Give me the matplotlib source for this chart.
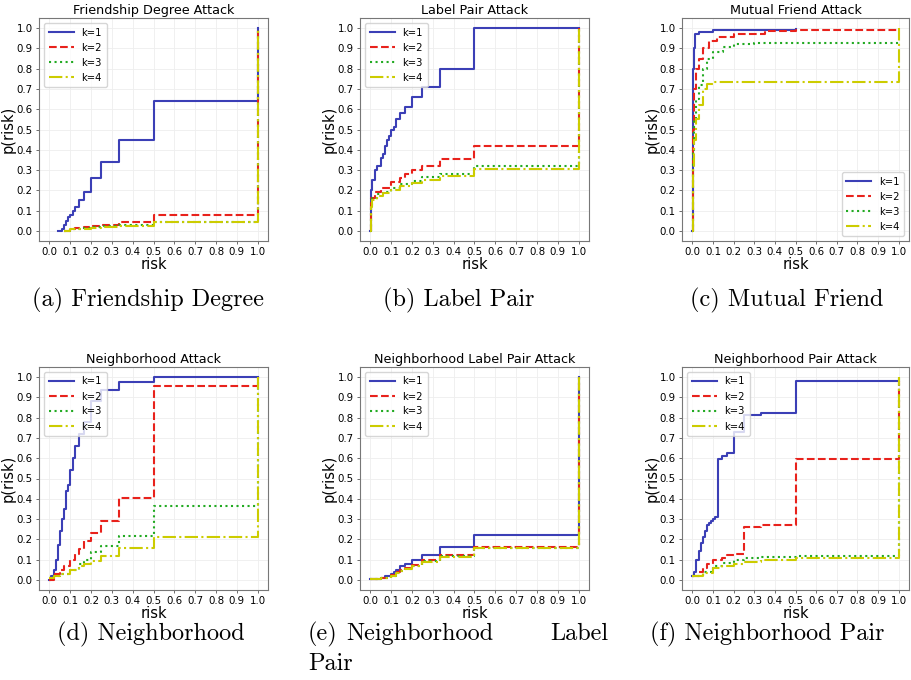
#!/usr/bin/env python3

"""
Risk CDFs for six attacks, k=1..4, laid out like the paper's subfigures.
"""

import matplotlib
matplotlib.use("Agg")
import matplotlib.pyplot as plt

# ---- data: (risk, p(risk)) step points per attack and k ----
FD_X1 = [0.04, 0.06, 0.07, 0.08, 0.09, 0.10, 0.111, 0.125, 0.143, 0.167, 0.20, 0.25, 0.333, 0.5, 1.0]
FD_Y1 = [0.0, 0.01, 0.03, 0.05, 0.07, 0.08, 0.10, 0.12, 0.15, 0.19, 0.26, 0.34, 0.45, 0.64, 1.0]
FD_X2 = [0.07, 0.10, 0.125, 0.167, 0.20, 0.25, 0.333, 0.5, 1.0]
FD_Y2 = [0.0, 0.01, 0.015, 0.02, 0.025, 0.03, 0.045, 0.08, 1.0]
FD_X3 = [0.07, 0.10, 0.167, 0.20, 0.25, 0.333, 0.5, 1.0]
FD_Y3 = [0.0, 0.01, 0.015, 0.02, 0.025, 0.03, 0.045, 1.0]
FD_X4 = [0.07, 0.10, 0.20, 0.25, 0.333, 0.5, 1.0]
FD_Y4 = [0.0, 0.01, 0.015, 0.02, 0.025, 0.042, 1.0]

LP_X1 = [0.0, 0.002, 0.005, 0.01, 0.02, 0.03, 0.05, 0.06, 0.07, 0.08, 0.09, 0.10, 0.111,
         0.125, 0.143, 0.167, 0.20, 0.25, 0.333, 0.5, 1.0]
LP_Y1 = [0.0, 0.15, 0.20, 0.25, 0.30, 0.32, 0.36, 0.38, 0.42, 0.45, 0.47, 0.50, 0.51,
         0.55, 0.58, 0.61, 0.66, 0.71, 0.80, 1.0, 1.0]
LP_X2 = [0.0, 0.002, 0.005, 0.02, 0.05, 0.10, 0.143, 0.167, 0.20, 0.25, 0.333, 0.5, 1.0]
LP_Y2 = [0.0, 0.13, 0.16, 0.19, 0.21, 0.24, 0.26, 0.28, 0.30, 0.32, 0.355, 0.42, 1.0]
LP_X3 = [0.0, 0.002, 0.01, 0.03, 0.06, 0.10, 0.143, 0.20, 0.25, 0.333, 0.5, 1.0]
LP_Y3 = [0.0, 0.12, 0.16, 0.18, 0.19, 0.21, 0.23, 0.245, 0.265, 0.28, 0.32, 1.0]
LP_X4 = [0.0, 0.002, 0.01, 0.03, 0.06, 0.10, 0.143, 0.20, 0.25, 0.333, 0.5, 1.0]
LP_Y4 = [0.0, 0.12, 0.15, 0.17, 0.185, 0.20, 0.22, 0.235, 0.25, 0.27, 0.305, 1.0]

MF_X1 = [0.0, 0.002, 0.005, 0.008, 0.012, 0.03, 0.10, 0.5]
MF_Y1 = [0.0, 0.5, 0.8, 0.9, 0.97, 0.98, 0.99, 0.995]
MF_X2 = [0.0, 0.005, 0.01, 0.02, 0.03, 0.05, 0.08, 0.12, 0.20, 0.35, 0.5, 1.0]
MF_Y2 = [0.0, 0.5, 0.7, 0.8, 0.85, 0.9, 0.935, 0.955, 0.97, 0.985, 0.99, 0.99]
MF_X3 = [0.0, 0.005, 0.01, 0.02, 0.03, 0.05, 0.07, 0.10, 0.15, 0.20, 0.30, 1.0]
MF_Y3 = [0.0, 0.4, 0.55, 0.65, 0.72, 0.8, 0.85, 0.88, 0.905, 0.92, 0.925, 0.925]
MF_X4 = [0.0, 0.005, 0.01, 0.02, 0.03, 0.05, 0.07, 0.10, 1.0]
MF_Y4 = [0.0, 0.3, 0.45, 0.55, 0.62, 0.7, 0.725, 0.735, 1.0]

NB_X1 = [0.0, 0.01, 0.02, 0.03, 0.04, 0.05, 0.06, 0.07, 0.08, 0.09, 0.10, 0.111, 0.125,
         0.143, 0.167, 0.20, 0.25, 0.333, 0.5, 1.0]
NB_Y1 = [0.0, 0.02, 0.05, 0.10, 0.17, 0.24, 0.30, 0.35, 0.44, 0.47, 0.54, 0.60, 0.66,
         0.72, 0.78, 0.88, 0.935, 0.975, 1.0, 1.0]
NB_X2 = [0.0, 0.02, 0.05, 0.07, 0.10, 0.125, 0.143, 0.167, 0.20, 0.25, 0.333, 0.5, 1.0]
NB_Y2 = [0.0, 0.03, 0.05, 0.07, 0.10, 0.13, 0.15, 0.19, 0.23, 0.29, 0.405, 0.955, 1.0]
NB_X3 = [0.0, 0.02, 0.05, 0.10, 0.143, 0.167, 0.20, 0.25, 0.333, 0.5, 1.0]
NB_Y3 = [0.01, 0.02, 0.03, 0.05, 0.08, 0.10, 0.135, 0.165, 0.215, 0.365, 1.0]
NB_X4 = [0.0, 0.02, 0.05, 0.10, 0.143, 0.167, 0.20, 0.25, 0.333, 0.5, 1.0]
NB_Y4 = [0.01, 0.02, 0.03, 0.05, 0.07, 0.08, 0.095, 0.12, 0.155, 0.21, 1.0]

NL_X1 = [0.0, 0.05, 0.07, 0.10, 0.111, 0.125, 0.143, 0.167, 0.20, 0.25, 0.333, 0.5, 1.0]
NL_Y1 = [0.003, 0.01, 0.02, 0.03, 0.04, 0.05, 0.07, 0.08, 0.10, 0.125, 0.16, 0.22, 1.0]
NL_X2 = [0.0, 0.05, 0.10, 0.125, 0.143, 0.167, 0.20, 0.25, 0.333, 0.5, 1.0]
NL_Y2 = [0.003, 0.01, 0.025, 0.04, 0.05, 0.06, 0.075, 0.10, 0.125, 0.16, 1.0]
NL_X3 = [0.0, 0.05, 0.10, 0.125, 0.143, 0.167, 0.20, 0.25, 0.333, 0.5, 1.0]
NL_Y3 = [0.003, 0.008, 0.02, 0.035, 0.045, 0.055, 0.07, 0.095, 0.12, 0.155, 1.0]
NL_X4 = [0.0, 0.05, 0.10, 0.125, 0.143, 0.167, 0.20, 0.25, 0.333, 0.5, 1.0]
NL_Y4 = [0.003, 0.008, 0.02, 0.035, 0.045, 0.055, 0.07, 0.09, 0.115, 0.155, 1.0]

NP_X1 = [0.0, 0.01, 0.02, 0.03, 0.04, 0.05, 0.06, 0.07, 0.08, 0.09, 0.10, 0.111, 0.125,
         0.143, 0.167, 0.20, 0.25, 0.333, 0.5, 1.0]
NP_Y1 = [0.02, 0.04, 0.10, 0.14, 0.18, 0.21, 0.24, 0.27, 0.28, 0.29, 0.30, 0.31, 0.595,
         0.61, 0.625, 0.73, 0.815, 0.825, 0.98, 0.98]
NP_X2 = [0.0, 0.03, 0.05, 0.07, 0.10, 0.143, 0.167, 0.20, 0.25, 0.333, 0.5, 1.0]
NP_Y2 = [0.02, 0.04, 0.06, 0.08, 0.10, 0.11, 0.125, 0.13, 0.26, 0.27, 0.595, 0.98]
NP_X3 = [0.0, 0.05, 0.10, 0.143, 0.20, 0.25, 0.333, 0.5, 1.0]
NP_Y3 = [0.02, 0.04, 0.07, 0.085, 0.10, 0.11, 0.115, 0.12, 1.0]
NP_X4 = [0.0, 0.05, 0.10, 0.143, 0.20, 0.25, 0.333, 0.5, 1.0]
NP_Y4 = [0.02, 0.035, 0.06, 0.07, 0.08, 0.09, 0.10, 0.11, 1.0]

TITLES = ["Friendship Degree Attack", "Label Pair Attack", "Mutual Friend Attack",
          "Neighborhood Attack", "Neighborhood Label Pair Attack", "Neighborhood Pair Attack"]
SERIES = [
    [(FD_X1, FD_Y1), (FD_X2, FD_Y2), (FD_X3, FD_Y3), (FD_X4, FD_Y4)],
    [(LP_X1, LP_Y1), (LP_X2, LP_Y2), (LP_X3, LP_Y3), (LP_X4, LP_Y4)],
    [(MF_X1, MF_Y1), (MF_X2, MF_Y2), (MF_X3, MF_Y3), (MF_X4, MF_Y4)],
    [(NB_X1, NB_Y1), (NB_X2, NB_Y2), (NB_X3, NB_Y3), (NB_X4, NB_Y4)],
    [(NL_X1, NL_Y1), (NL_X2, NL_Y2), (NL_X3, NL_Y3), (NL_X4, NL_Y4)],
    [(NP_X1, NP_Y1), (NP_X2, NP_Y2), (NP_X3, NP_Y3), (NP_X4, NP_Y4)],
]
LABELS = ["k=1", "k=2", "k=3", "k=4"]
LEGEND_LOC = ["upper left", "upper left", "lower right",
              "upper left", "upper left", "upper left"]

COLORS = ["#3b3fb6", "#e8221c", "#22aa22", "#cccc00"]
STYLES = ["-", "--", ":", "-."]

W, H = 911, 680
# axes boxes in pixels: left, top, right, bottom
BOXES = [(39, 18, 268, 241), (360, 18, 589, 241), (682, 18, 909, 241),
         (39, 367, 268, 590), (360, 367, 589, 590), (682, 367, 909, 590)]

fig = plt.figure(figsize=(W / 100, H / 100), dpi=100)

for i, (l, t, r, b) in enumerate(BOXES):
    ax = fig.add_axes([l / W, 1 - b / H, (r - l) / W, (b - t) / H])
    for (xs, ys), lab, c, ls in zip(SERIES[i], LABELS, COLORS, STYLES):
        ax.step(xs, ys, where="post", color=c, linestyle=ls, linewidth=1.5, label=lab)
    ax.set_xlim(-0.05, 1.05)
    ax.set_ylim(-0.05, 1.05)
    ticks = [j / 10 for j in range(11)]
    ax.set_xticks(ticks)
    ax.set_yticks(ticks)
    ax.tick_params(labelsize=7.4, length=2.5, width=0.6, color="#555555", pad=2)
    ax.grid(color="#eeeeee", linewidth=0.6)
    for sp in ax.spines.values():
        sp.set_color("#777777")
        sp.set_linewidth(0.8)
    ax.set_title(TITLES[i], fontsize=9.2, pad=3)
    ax.set_xlabel("risk", fontsize=10.5, labelpad=0)
    ax.set_ylabel("p(risk)", fontsize=10.5)
    ax.yaxis.set_label_coords(-0.1, 0.5)
    ax.legend(loc=LEGEND_LOC[i], fontsize=7.2, handlelength=2.5, borderpad=0.45,
              labelspacing=0.5, framealpha=0.8)

cap = dict(fontsize=17.5, family="cmr10", va="center")
fig.text(32 / W, 1 - 300 / H, "(a) Friendship Degree", **cap)
fig.text(383 / W, 1 - 300 / H, "(b) Label Pair", **cap)
fig.text(690 / W, 1 - 300 / H, "(c) Mutual Friend", **cap)
fig.text(57 / W, 1 - 634 / H, "(d) Neighborhood", **cap)
fig.text(308 / W, 1 - 634 / H, "(e)", **cap)
fig.text(420 / W, 1 - 634 / H, "Neighborhood", ha="center", **cap)
fig.text(608 / W, 1 - 634 / H, "Label", ha="right", **cap)
fig.text(308 / W, 1 - 664 / H, "Pair", **cap)
fig.text(650 / W, 1 - 634 / H, "(f) Neighborhood Pair", **cap)

fig.savefig("out.png", dpi=100)
